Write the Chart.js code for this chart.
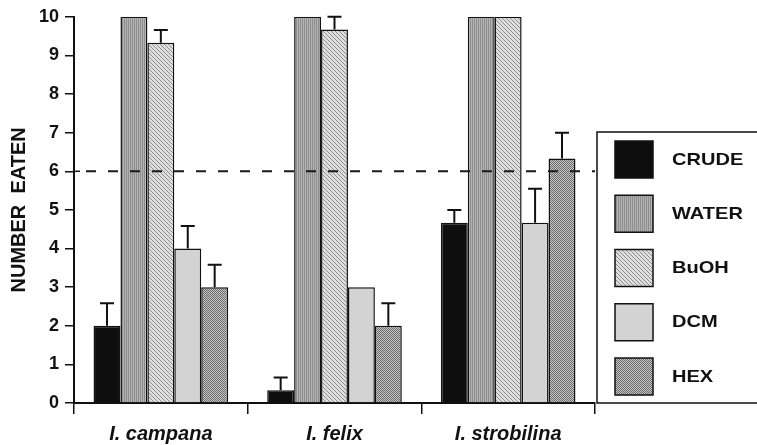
<!DOCTYPE html>
<html>
<head>
<meta charset="utf-8">
<script src="https://cdn.jsdelivr.net/npm/chart.js@4.4.1/dist/chart.umd.min.js"></script>
<style>
  html, body { margin: 0; padding: 0; background: #ffffff; }
  #wrap { width: 757px; height: 445px; }
</style>
</head>
<body>
<div id="wrap"><canvas id="c" width="757" height="445"></canvas></div>
<script>
// ---- data ----
const categories = ['I. campana', 'I. felix', 'I. strobilina'];
const seriesNames = ['CRUDE', 'WATER', 'BuOH', 'DCM', 'HEX'];
const crude = [2, 0.33, 4.67];
const water = [10, 10, 10];
const buoh  = [9.33, 9.67, 10];
const dcm   = [4, 3, 4.67];
const hex   = [3, 2, 6.33];
const crudeErr = [0.58, 0.33, 0.33];
const waterErr = [0, 0, 0];
const buohErr  = [0.33, 0.33, 0];
const dcmErr   = [0.58, 0, 0.88];
const hexErr   = [0.58, 0.58, 0.67];
const yTicks = [0, 1, 2, 3, 4, 5, 6, 7, 8, 9, 10];
const threshold = 6;
const yTitle = 'NUMBER  EATEN';

// ---- fills ----
function makePattern(w, h, draw) {
  const c = document.createElement('canvas');
  c.width = w; c.height = h;
  const g = c.getContext('2d');
  draw(g);
  return g.createPattern(c, 'repeat');
}
const fillCrude = '#0e0e0e';
const fillWater = makePattern(2, 1, g => {
  g.fillStyle = '#b2b2b2'; g.fillRect(0, 0, 2, 1);
  g.fillStyle = '#8e8e8e'; g.fillRect(0, 0, 1, 1);
});
const fillBuoh = makePattern(4, 4, g => {
  g.fillStyle = '#dedede'; g.fillRect(0, 0, 4, 4);
  g.fillStyle = '#909090';
  for (let i = 0; i < 4; i++) g.fillRect(i, i, 1, 1);
});
const fillDcm = '#d3d3d3';
const fillHex = makePattern(2, 2, g => {
  g.fillStyle = '#c4c4c4'; g.fillRect(0, 0, 2, 2);
  g.fillStyle = '#6c6c6c'; g.fillRect(0, 0, 1, 1); g.fillRect(1, 1, 1, 1);
});

const seriesValues = [crude, water, buoh, dcm, hex];
const seriesErrors = [crudeErr, waterErr, buohErr, dcmErr, hexErr];
const seriesFills = [fillCrude, fillWater, fillBuoh, fillDcm, fillHex];

const datasets = seriesNames.map((name, i) => ({
  label: name,
  data: seriesValues[i],
  errors: seriesErrors[i],
  backgroundColor: seriesFills[i],
  borderColor: '#111111',
  borderWidth: 1.5,
  borderSkipped: 'bottom',
  categoryPercentage: 0.775,
  barPercentage: 1.0
}));

const FONT = "'Liberation Sans', Arial, Helvetica, sans-serif";

const errorBars = {
  id: 'errorBars',
  afterDatasetsDraw(chart) {
    const ctx = chart.ctx, y = chart.scales.y;
    ctx.save();
    ctx.strokeStyle = '#111';
    ctx.lineWidth = 2;
    chart.data.datasets.forEach((ds, i) => {
      const meta = chart.getDatasetMeta(i);
      meta.data.forEach((bar, j) => {
        const e = ds.errors[j];
        if (!e) return;
        const top = y.getPixelForValue(ds.data[j] + e);
        ctx.beginPath();
        ctx.moveTo(bar.x, bar.y);
        ctx.lineTo(bar.x, top);
        ctx.moveTo(bar.x - 7, top);
        ctx.lineTo(bar.x + 7, top);
        ctx.stroke();
      });
    });
    ctx.restore();
  }
};

const refLine = {
  id: 'refLine',
  afterDatasetsDraw(chart) {
    const ctx = chart.ctx, a = chart.chartArea;
    const yy = chart.scales.y.getPixelForValue(threshold);
    ctx.save();
    ctx.strokeStyle = '#1a1a1a';
    ctx.lineWidth = 2;
    ctx.setLineDash([10, 12]);
    ctx.beginPath();
    ctx.moveTo(a.left + 12, yy);
    ctx.lineTo(a.right, yy);
    ctx.stroke();
    ctx.setLineDash([]);
    ctx.lineWidth = 1.5;
    ctx.beginPath();
    ctx.moveTo(a.left, yy);
    ctx.lineTo(a.left + 6, yy);
    ctx.stroke();
    ctx.restore();
  }
};

const boxLegend = {
  id: 'boxLegend',
  afterDraw(chart) {
    const ctx = chart.ctx;
    const bx = 597, by = 132, bw = 170, bh = 271;
    ctx.save();
    ctx.strokeStyle = '#111';
    ctx.lineWidth = 1.5;
    ctx.strokeRect(bx, by, bw, bh);
    chart.data.datasets.forEach((ds, i) => {
      const sy = 141 + i * 54.25;
      ctx.fillStyle = ds.backgroundColor;
      ctx.fillRect(615, sy, 38, 37);
      ctx.strokeStyle = '#111';
      ctx.lineWidth = 1.5;
      ctx.strokeRect(615, sy, 38, 37);
      ctx.save();
      ctx.translate(672, sy + 19);
      ctx.scale(1.18, 1);
      ctx.fillStyle = '#111';
      ctx.font = 'bold 17px ' + FONT;
      ctx.textBaseline = 'middle';
      ctx.textAlign = 'left';
      ctx.fillText(ds.label, 0, 0);
      ctx.restore();
    });
    ctx.restore();
  }
};

new Chart(document.getElementById('c'), {
  type: 'bar',
  data: { labels: categories, datasets },
  options: {
    responsive: false,
    animation: false,
    events: [],
    layout: { padding: { top: 14, right: 162, left: 0, bottom: 0 } },
    plugins: {
      legend: { display: false },
      tooltip: { enabled: false },
      title: { display: false }
    },
    scales: {
      x: {
        offset: true,
        afterFit(s) { s.height = 42; },
        grid: { display: true, offset: true, drawOnChartArea: false, drawTicks: true, tickLength: 11, color: '#111', lineWidth: 1.5 },
        border: { display: true, color: '#111', width: 2 },
        ticks: { color: '#111', padding: 8, font: { family: FONT, size: 20, weight: 'bold', style: 'italic' } }
      },
      y: {
        min: 0, max: 10,
        afterFit(s) { s.width = 74; },
        afterBuildTicks(s) { s.ticks = yTicks.map(v => ({ value: v })); },
        grid: { display: true, drawOnChartArea: false, drawTicks: true, tickLength: 9, color: '#111', lineWidth: 1.5 },
        border: { display: true, color: '#111', width: 2 },
        ticks: { color: '#111', padding: 6, font: { family: FONT, size: 18, weight: 'bold' } },
        title: { display: true, text: yTitle, color: '#111', padding: { top: 7, bottom: 0 }, font: { family: FONT, size: 20, weight: 'bold' } }
      }
    }
  },
  plugins: [errorBars, refLine, boxLegend]
});
</script>
</body>
</html>
